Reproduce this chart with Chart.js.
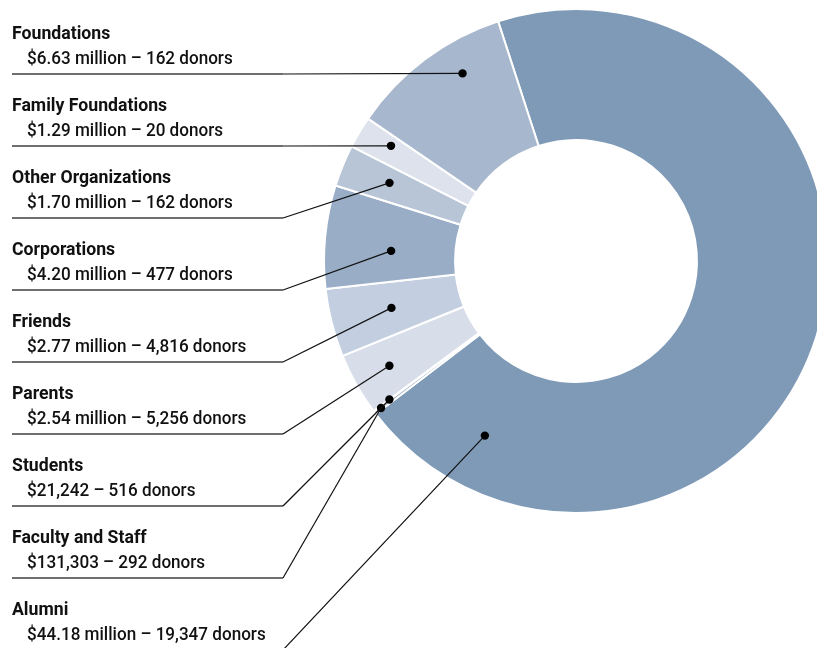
<!DOCTYPE html>
<html>
<head>
<meta charset="utf-8">
<script src="https://cdn.jsdelivr.net/npm/chart.js@4.4.1/dist/chart.umd.min.js"></script>
<style>
  html, body { margin: 0; padding: 0; background: #ffffff; overflow: hidden; width: 817px; height: 648px; }
  #wrap { position: absolute; left: 0; top: 0; width: 840px; height: 648px; }
</style>
</head>
<body>
<div id="wrap"><canvas id="c" width="840" height="648"></canvas></div>
<script>
// Categories in clockwise drawing order (starting at the top-left boundary)
const categories = ["Alumni", "Faculty and Staff", "Students", "Parents", "Friends",
                    "Corporations", "Other Organizations", "Family Foundations", "Foundations"];
// Gift amounts in millions of dollars
const amountsMillions = [44.18, 0.131303, 0.021242, 2.54, 2.77, 4.20, 1.70, 1.29, 6.63];
// Amount text as printed
const amountLabels = ["$44.18 million", "$131,303", "$21,242", "$2.54 million", "$2.77 million",
                      "$4.20 million", "$1.70 million", "$1.29 million", "$6.63 million"];
// Number of donors
const donors = [19347, 292, 516, 5256, 4816, 477, 162, 20, 162];

// Styles
const sliceColors = ["#7f9ab7", "#91a5c0", "#7f98b8", "#d8dee9", "#c3cfe0",
                     "#99adc7", "#b8c5d7", "#dde2ec", "#a7b7ce"];
// where the leader dot sits inside each slice (fraction of angle span, fraction of ring thickness)
const dotAngleFrac  = [0.90, 0.5, 0.5, 0.5, 0.5, 0.40, 0.55, 0.66, 0.65];
const dotRadiusFrac = [0.58, 0.94, 0.85, 0.71, 0.53, 0.49, 0.62, 0.74, 0.75];

const labelPlugin = {
  id: 'leaderLabels',
  afterDraw(chart) {
    const ctx = chart.ctx;
    const arcs = chart.getDatasetMeta(0).data;
    const n = categories.length;
    ctx.save();
    for (let i = 0; i < n; i++) {
      const row = n - 1 - i;            // top-to-bottom row on the left
      const titleY = 38.5 + 72 * row;
      const valueY = 64 + 72 * row;
      const lineY = 74 + 72 * row;
      // texts
      ctx.fillStyle = '#111111';
      ctx.textBaseline = 'alphabetic';
      ctx.textAlign = 'left';
      ctx.font = 'bold 19px Roboto';
      ctx.save();
      ctx.translate(12, titleY);
      ctx.scale(0.93, 1);
      ctx.fillText(categories[i], 0, 0);
      ctx.restore();
      ctx.font = '500 19px Roboto';
      ctx.save();
      ctx.translate(27, valueY);
      ctx.scale(0.9, 1);
      ctx.fillText(amountLabels[i] + ' \u2013 ' + donors[i].toLocaleString('en-US') + ' donors', 0, 0);
      ctx.restore();
      // dot position from the arc geometry
      const a = arcs[i];
      const p = a.getProps(['x', 'y', 'startAngle', 'endAngle', 'innerRadius', 'outerRadius']);
      const ang = p.startAngle + (p.endAngle - p.startAngle) * dotAngleFrac[i];
      const r = p.innerRadius + (p.outerRadius - p.innerRadius) * dotRadiusFrac[i];
      const dx = p.x + Math.cos(ang) * r;
      const dy = p.y + Math.sin(ang) * r;
      // gray underline
      ctx.strokeStyle = '#6f6f6f';
      ctx.lineWidth = 2;
      ctx.beginPath();
      ctx.moveTo(12, lineY);
      ctx.lineTo(283, lineY);
      ctx.stroke();
      // black leader
      ctx.strokeStyle = '#111111';
      ctx.lineWidth = 1.2;
      ctx.beginPath();
      ctx.moveTo(283, lineY);
      ctx.lineTo(dx, dy);
      ctx.stroke();
      // dot
      ctx.fillStyle = '#000000';
      ctx.beginPath();
      ctx.arc(dx, dy, 4.2, 0, Math.PI * 2);
      ctx.fill();
    }
    ctx.restore();
  }
};

new Chart(document.getElementById('c'), {
  type: 'doughnut',
  data: {
    labels: categories,
    datasets: [{
      data: amountsMillions,
      backgroundColor: sliceColors,
      borderColor: '#ffffff',
      borderWidth: 2,
      hoverBorderWidth: 2,
      hoverOffset: 0,
      offset: 0
    }]
  },
  options: {
    responsive: false,
    devicePixelRatio: 1,
    animation: false,
    events: [],
    rotation: -18,
    cutout: '48%',
    layout: { padding: { left: 323, top: 8, right: 11, bottom: 134 } },
    plugins: { legend: { display: false }, tooltip: { enabled: false } }
  },
  plugins: [labelPlugin]
});
</script>
</body>
</html>
